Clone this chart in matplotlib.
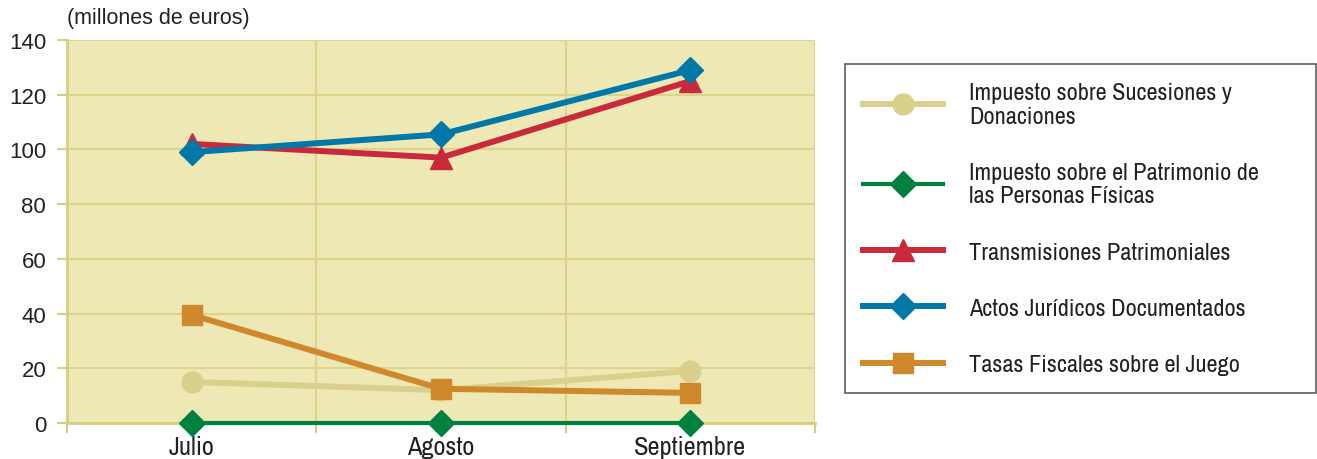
import numpy as np
import matplotlib.pyplot as plt
from matplotlib import font_manager

narrow = [f.name for f in font_manager.fontManager.ttflist if 'Narrow' in f.name]
cond = (narrow[:1] or ['Liberation Sans']) + ['DejaVu Sans']
plt.rcParams['font.family'] = cond

months = ['Julio', 'Agosto', 'Septiembre']
sucesiones = [15, 12, 19]
patrimonio = [0, 0, 0]
transmisiones = [102, 97, 125]
actos = [99, 105.5, 129]
juego = [39.5, 12.5, 11]

labels = ['Impuesto sobre Sucesiones y\nDonaciones',
          'Impuesto sobre el Patrimonio de\nlas Personas Físicas',
          'Transmisiones Patrimoniales',
          'Actos Jurídicos Documentados',
          'Tasas Fiscales sobre el Juego']

fig = plt.figure(figsize=(13.17, 4.6), dpi=100)
ax = fig.add_axes([0.0509, 0.0783, 0.568, 0.8326])
ax.set_facecolor('#EEE8B5')

x = np.arange(len(months))
l1, = ax.plot(x, sucesiones, color='#D8D08C', lw=4.3, marker='o', ms=15, zorder=3)
l2, = ax.plot(x, patrimonio, color='#00813F', lw=3, marker='D', ms=13, zorder=3, clip_on=False)
l3, = ax.plot(x, transmisiones, color='#C82A3B', lw=4.3, marker='^', ms=16, zorder=4)
l4, = ax.plot(x, actos, color='#0079A8', lw=4.3, marker='D', ms=13, zorder=5)
l5, = ax.plot(x, juego, color='#D0882C', lw=4.3, marker='s', ms=15, zorder=6)

ax.set_xlim(-0.5, 2.5)
ax.set_ylim(0, 140)
ax.set_yticks(range(0, 141, 20))
ax.set_xticks(x)
ax.set_xticklabels(months, fontsize=19)
ax.set_xticks([-0.5, 0.5, 1.5, 2.5], minor=True)
ax.tick_params(axis='x', which='major', length=0, pad=9, colors='#222222')
ax.tick_params(axis='x', which='minor', length=7, width=1.5, color='#D8CC80')
ax.tick_params(axis='y', length=7, width=1.5, color='#D8CC80', pad=8, labelcolor='#222222')
for t in ax.get_yticklabels():
    t.set_family(['Liberation Sans', 'DejaVu Sans'])
    t.set_fontsize(16)
ax.grid(True, which='minor', axis='x', color='#DDD38C', lw=1.5)
ax.grid(True, which='major', axis='y', color='#DDD38C', lw=1.5)
for s in ['top', 'right']:
    ax.spines[s].set_visible(False)
ax.spines['left'].set_color('#D8CC80')
ax.spines['left'].set_linewidth(2)
ax.spines['bottom'].set_color('#D8CC80')
ax.spines['bottom'].set_linewidth(2)
ax.set_axisbelow(True)

fig.text(0.0509, 0.96, '(millones de euros)', fontsize=15.5, ha='left', va='center',
         color='#222222', family=['Liberation Sans', 'DejaVu Sans'])

leg = fig.legend([l1, l2, l3, l4, l5], labels,
                 loc='upper left', bbox_to_anchor=(0.6416, 0.859, 0.3576, 0.0),
                 mode='expand', fontsize=17.5, frameon=True, fancybox=False,
                 edgecolor='#333333', handlelength=3.3, handletextpad=1.05,
                 borderpad=0.75, labelspacing=1.45, borderaxespad=0)
leg.get_frame().set_linewidth(1.2)
for t in leg.get_texts():
    t.set_color('#222222')
    t.set_linespacing(1.15)

fig.savefig('out.png', dpi=100)
